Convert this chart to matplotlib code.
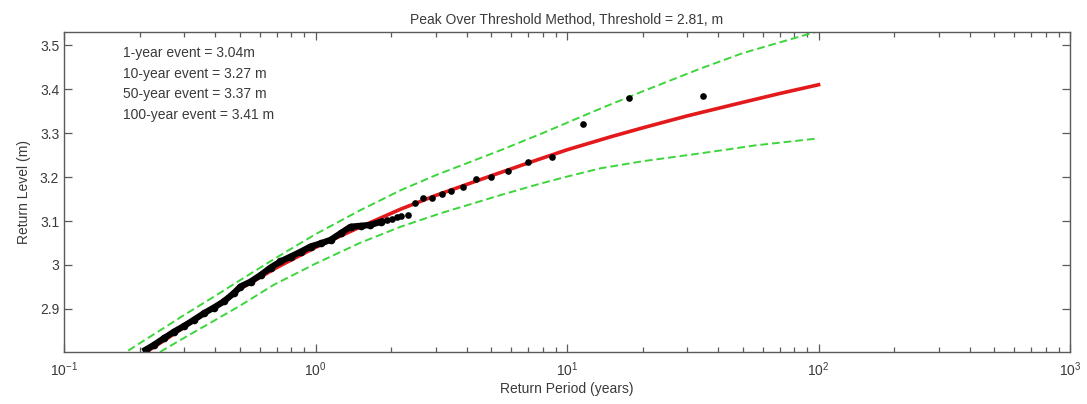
import matplotlib
matplotlib.use("Agg")
import matplotlib.pyplot as plt
from matplotlib.ticker import FuncFormatter, LogLocator, FixedLocator

# observed exceedances: dense part (merged dots) read along the track
dense_x = [0.211, 0.2275, 0.249, 0.2733, 0.2995, 0.328, 0.3596, 0.394, 0.4318,
           0.4733, 0.5031, 0.5514, 0.6044, 0.6624, 0.7256, 0.7955, 0.8718,
           0.9553, 1.047, 1.147, 1.257, 1.378, 1.510, 1.654, 1.813]
dense_y = [2.807, 2.818, 2.833, 2.848, 2.861, 2.875, 2.890, 2.903, 2.917,
           2.936, 2.951, 2.962, 2.977, 2.994, 3.008, 3.019, 3.030,
           3.042, 3.049, 3.057, 3.072, 3.087, 3.089, 3.091, 3.098]

# observed exceedances: separate dots
obs_x = [1.84, 1.93, 2.02, 2.10, 2.18, 2.33, 2.48, 2.68, 2.91, 3.18, 3.47, 3.87,
         4.34, 5.0, 5.8, 6.97, 8.75, 11.6, 17.6, 34.8]
obs_y = [3.100, 3.102, 3.104, 3.108, 3.112, 3.113, 3.140, 3.152, 3.153, 3.161,
         3.169, 3.177, 3.195, 3.200, 3.214, 3.235, 3.245, 3.320, 3.380, 3.385]

# fitted return level curve
fit_x = [0.21, 0.3, 0.5, 0.7, 1, 1.5, 2.18, 3, 5, 7, 10, 15, 20, 30, 50, 70, 100]
fit_y = [2.800, 2.858, 2.945, 2.994, 3.040, 3.086, 3.127, 3.158, 3.203, 3.232,
         3.262, 3.292, 3.312, 3.339, 3.370, 3.390, 3.410]

# confidence bounds
up_x = [0.18, 0.2, 0.25, 0.3, 0.4, 0.5, 0.7, 1, 1.5, 2.18, 3, 5.44, 8, 13.6,
        20, 34, 50, 100]
ci_upper = [2.805, 2.822, 2.857, 2.886, 2.930, 2.965, 3.017, 3.070, 3.124,
            3.170, 3.204, 3.261, 3.300, 3.356, 3.395, 3.447, 3.482, 3.532]
lo_x = [0.22, 0.249, 0.3, 0.4, 0.5, 0.683, 1, 1.5, 2.18, 3.16, 5.44, 7.94, 10,
        13.6, 20, 34, 56, 100]
ci_lower = [2.788, 2.807, 2.834, 2.875, 2.907, 2.955, 3.003, 3.050, 3.087,
            3.118, 3.159, 3.186, 3.201, 3.220, 3.236, 3.254, 3.272, 3.288]

events = ["1-year event = 3.04m", "10-year event = 3.27 m",
          "50-year event = 3.37 m", "100-year event = 3.41 m"]

plt.rcParams['font.family'] = ['Liberation Sans', 'DejaVu Sans']
txt_col = '#3a3a3a'
ax_col = '#5a5a5a'

fig = plt.figure(figsize=(10.87, 4.04), dpi=100)
ax = fig.add_axes([0.0589, 0.1287, 0.9255, 0.7921])

ax.plot(up_x, ci_upper, '--', color='#3cd63c', lw=1.4, dashes=(4, 2))
ax.plot(lo_x, ci_lower, '--', color='#3cd63c', lw=1.4, dashes=(4, 2))
ax.plot(fit_x, fit_y, '-', color='#e3191c', lw=2.6)
ax.plot(dense_x, dense_y, 'o-', color='black', lw=4.5, ms=4.5)
ax.plot(obs_x, obs_y, 'o', color='black', ms=4.8, mec='none')

ax.set_xscale('log')
ax.set_xlim(0.1, 1000)
ax.set_ylim(2.802, 3.53)
ax.yaxis.set_major_locator(FixedLocator([2.9, 3.0, 3.1, 3.2, 3.3, 3.4, 3.5]))
ax.yaxis.set_major_formatter(FuncFormatter(lambda v, p: '%g' % round(v, 2)))
ax.xaxis.set_major_locator(LogLocator(base=10))
ax.xaxis.set_minor_locator(LogLocator(base=10, subs=range(2, 10)))

ax.tick_params(which='both', direction='in', top=True, right=True,
               colors=ax_col, labelcolor=txt_col, labelsize=10, width=0.9)
ax.tick_params(which='major', length=6)
ax.tick_params(which='minor', length=3.5)
ax.tick_params(axis='x', pad=6)
for s in ax.spines.values():
    s.set_color(ax_col)
    s.set_linewidth(1.0)

ax.set_title('Peak Over Threshold Method, Threshold = 2.81, m',
             fontsize=10, color=txt_col, pad=6)
ax.set_xlabel('Return Period (years)', fontsize=10, color=txt_col, labelpad=2)
ax.set_ylabel('Return Level (m)', fontsize=10, color=txt_col, labelpad=6)

for i, t in enumerate(events):
    ax.text(0.0587, 0.934 - i * 0.0645, t, transform=ax.transAxes,
            fontsize=10, color=txt_col, va='center', ha='left')

fig.savefig('out.png', dpi=100)
